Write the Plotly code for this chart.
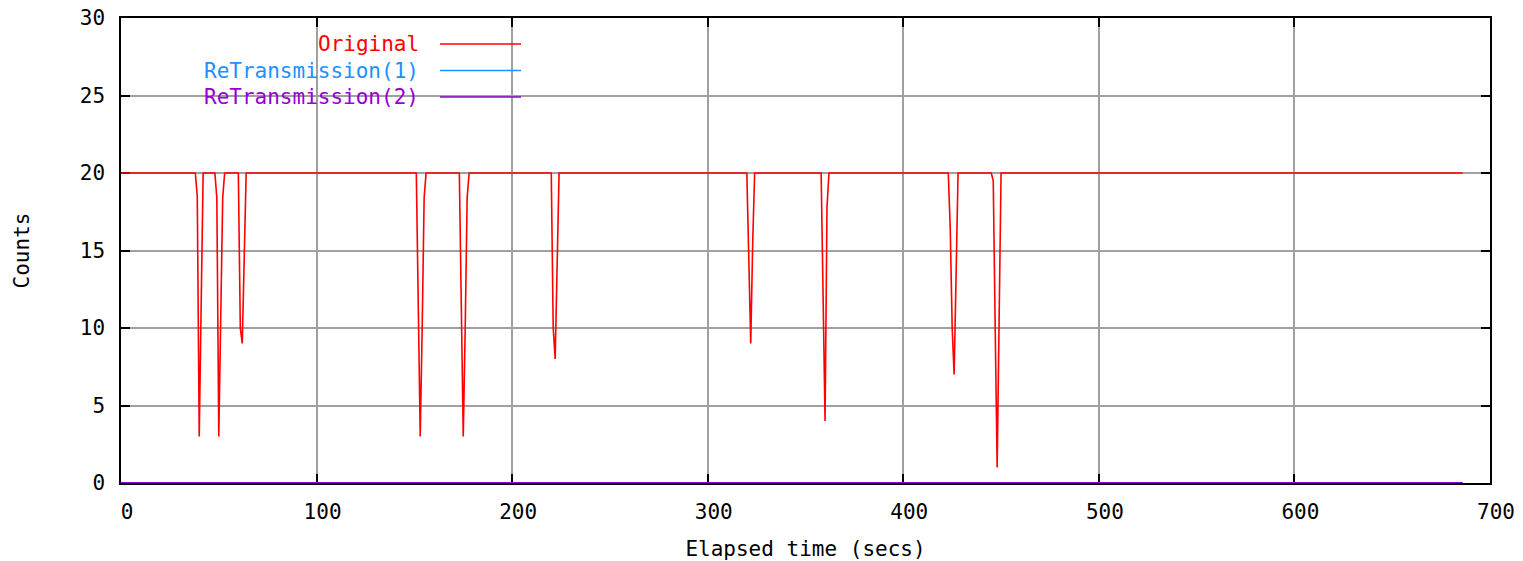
import plotly.graph_objects as go

# Breakpoints of the "Original" series (seconds, counts)
time_orig = [0, 38, 39, 40, 41, 42,
             48, 49, 50, 51, 52, 53,
             60, 61, 62, 63, 64,
             151, 152, 153, 154, 155, 156,
             173, 174, 175, 176, 177, 178,
             220, 221, 222, 223, 224,
             320, 321, 322, 323, 324,
             358, 359, 360, 361, 362,
             423, 424, 425, 426, 427, 428,
             445, 446, 447, 448, 449, 450,
             686]
counts_orig = [20, 20, 18.5, 3, 11.5, 20,
               20, 18.4, 3, 10, 18.4, 20,
               20, 10, 9, 14.5, 20,
               20, 11.5, 3, 10, 18.4, 20,
               20, 11.5, 3, 10, 18.4, 20,
               20, 10, 8, 14, 20,
               20, 14.5, 9, 15.5, 20,
               20, 12, 4, 17.8, 20,
               20, 16.5, 10, 7, 13.4, 20,
               20, 19.5, 10, 1, 10.5, 20,
               20]

time_retx = [0, 686]
counts_retx1 = [0, 0]
counts_retx2 = [0, 0]

series_names = ["Original", "ReTransmission(1)", "ReTransmission(2)"]
series_colors = ["#ff0000", "#1e90ff", "#9400d3"]

x_ticks = [0, 100, 200, 300, 400, 500, 600, 700]
y_ticks = [0, 5, 10, 15, 20, 25, 30]

FONT = "DejaVu Sans Mono"

fig = go.Figure()
fig.add_trace(go.Scatter(x=time_orig, y=counts_orig, mode="lines",
                         line=dict(color=series_colors[0], width=1.6),
                         name=series_names[0], showlegend=False, cliponaxis=False))
fig.add_trace(go.Scatter(x=time_retx, y=counts_retx1, mode="lines",
                         line=dict(color=series_colors[1], width=1.8),
                         name=series_names[1], showlegend=False, cliponaxis=False))
fig.add_trace(go.Scatter(x=time_retx, y=counts_retx2, mode="lines",
                         line=dict(color=series_colors[2], width=1.8),
                         name=series_names[2], showlegend=False, cliponaxis=False))

W, H = 1523, 561
L, R, T, B = 121, 33, 18, 78
pw, ph = W - L - R, H - T - B

def px(xs):  # screen px -> paper
    return (xs - L) / pw

def py(ys):
    return (H - B - ys) / ph

# gnuplot-style legend (text right-aligned, sample line to the right)
shapes = [dict(type="rect", xref="paper", yref="paper",
               x0=px(123), x1=px(535), y0=py(110), y1=py(20),
               fillcolor="white", line=dict(width=0), layer="below")]
annotations = []
for i, (name, col) in enumerate(zip(series_names, series_colors)):
    yy = py(44 + i * 26.5)
    annotations.append(dict(text=name, xref="paper", yref="paper",
                            x=px(421), y=yy, xanchor="right", yanchor="middle",
                            showarrow=False, font=dict(family=FONT, size=21, color=col)))
    shapes.append(dict(type="line", xref="paper", yref="paper",
                       x0=px(440), x1=px(521), y0=yy, y1=yy,
                       line=dict(color=col, width=1.6)))

fig.update_layout(
    width=W, height=H,
    margin=dict(l=L, r=R, t=T, b=B, autoexpand=False),
    paper_bgcolor="white", plot_bgcolor="white",
    font=dict(family=FONT, size=21, color="black"),
    shapes=shapes, annotations=annotations,
    showlegend=False, hovermode=False,
)
fig.update_xaxes(range=[0, 700], tickvals=x_ticks, ticktext=[str(v) for v in x_ticks],
                 automargin=False, layer="below traces", ticklabeloverflow="allow",
                 showgrid=True, gridcolor="#a0a0a0", gridwidth=2,
                 showline=True, linecolor="black", linewidth=1.5, mirror="ticks",
                 ticks="inside", ticklen=9, tickcolor="black", tickwidth=1.5,
                 ticklabelstandoff=9, ticklabelshift=6, zeroline=False,
                 title=dict(text="Elapsed time (secs)", standoff=18,
                            font=dict(family=FONT, size=21)))
fig.update_yaxes(range=[0, 30], tickvals=y_ticks, ticktext=[str(v) for v in y_ticks],
                 automargin=False, layer="below traces", ticklabeloverflow="allow",
                 showgrid=True, gridcolor="#a0a0a0", gridwidth=2,
                 showline=True, linecolor="black", linewidth=1.5, mirror="ticks",
                 ticks="inside", ticklen=9, tickcolor="black", tickwidth=1.5,
                 ticklabelstandoff=10, zeroline=False,
                 title=dict(text="Counts", standoff=44,
                            font=dict(family=FONT, size=21)))

fig.write_html("out.html", config={"displayModeBar": False},
               post_script="document.body.style.margin='0';document.body.style.overflow='hidden';")
